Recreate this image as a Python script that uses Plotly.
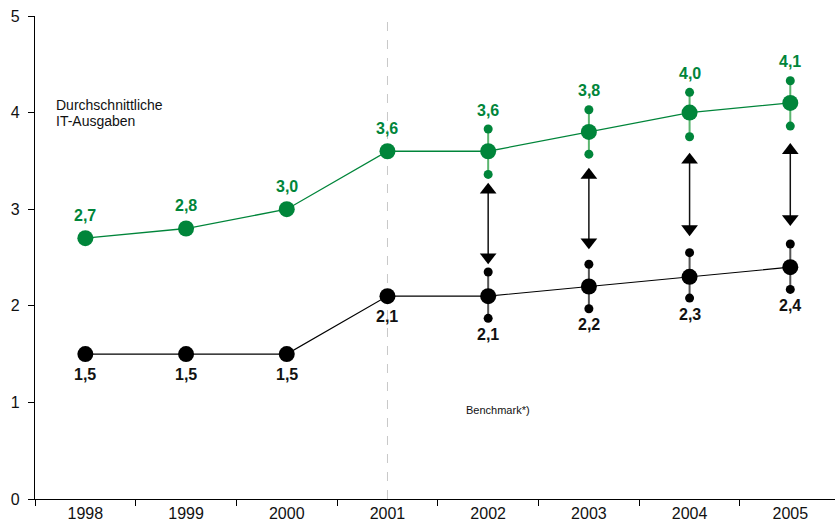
import plotly.graph_objects as go

years = ["1998", "1999", "2000", "2001", "2002", "2003", "2004", "2005"]
it_spend = [2.7, 2.8, 3.0, 3.6, 3.6, 3.8, 4.0, 4.1]
benchmark = [1.5, 1.5, 1.5, 2.1, 2.1, 2.2, 2.3, 2.4]
it_labels = ["2,7", "2,8", "3,0", "3,6", "3,6", "3,8", "4,0", "4,1"]
bm_labels = ["1,5", "1,5", "1,5", "2,1", "2,1", "2,2", "2,3", "2,4"]

range_years = ["2002", "2003", "2004", "2005"]
it_upper = [3.83, 4.03, 4.21, 4.33]
it_lower = [3.36, 3.57, 3.75, 3.86]
bm_upper = [2.35, 2.43, 2.55, 2.64]
bm_lower = [1.87, 1.97, 2.08, 2.17]
arrow_top = [3.20, 3.354, 3.51, 3.61]
arrow_bottom = [2.505, 2.66, 2.795, 2.90]

GREEN = "#00853a"
GREEN_LIGHT = "#5bb56f"
BLACK = "#000000"
FONT = "Liberation Sans, Arial, sans-serif"

fig = go.Figure()

fig.add_trace(go.Scatter(x=["2001", "2001"], y=[0, 5], mode="lines",
                         line=dict(color="#c8c8c8", width=1, dash="dash"),
                         hoverinfo="skip", showlegend=False))

for i, yr in enumerate(range_years):
    fig.add_trace(go.Scatter(x=[yr, yr], y=[it_lower[i], it_upper[i]], mode="lines+markers",
                             line=dict(color=GREEN_LIGHT, width=2),
                             marker=dict(color=GREEN, size=9),
                             showlegend=False, hoverinfo="skip"))
    fig.add_trace(go.Scatter(x=[yr, yr], y=[bm_lower[i], bm_upper[i]], mode="lines+markers",
                             line=dict(color="#555555", width=2),
                             marker=dict(color=BLACK, size=9),
                             showlegend=False, hoverinfo="skip"))
    fig.add_trace(go.Scatter(x=[yr, yr], y=[arrow_bottom[i], arrow_top[i]], mode="lines+markers",
                             line=dict(color="#111111", width=1.5),
                             marker=dict(color=BLACK, size=14.5,
                                         symbol=["triangle-down", "triangle-up"]),
                             showlegend=False, hoverinfo="skip"))

fig.add_trace(go.Scatter(x=years, y=it_spend, mode="lines+markers",
                         line=dict(color=GREEN, width=1.3),
                         marker=dict(color=GREEN, size=16),
                         showlegend=False))
fig.add_trace(go.Scatter(x=years, y=benchmark, mode="lines+markers",
                         line=dict(color=BLACK, width=1.1),
                         marker=dict(color=BLACK, size=16),
                         showlegend=False))

annotations = []
for i, yr in enumerate(years):
    if yr in range_years:
        j = range_years.index(yr)
        gy, gs = it_upper[j], 19
        by, bs = bm_lower[j], -16
    else:
        gy, gs = it_spend[i], 23
        by, bs = benchmark[i], -20
    annotations.append(dict(x=i, y=gy, yshift=gs, text="<b>%s</b>" % it_labels[i],
                            showarrow=False, font=dict(color=GREEN, size=16, family=FONT)))
    annotations.append(dict(x=i, y=by, yshift=bs, text="<b>%s</b>" % bm_labels[i],
                            showarrow=False, font=dict(color="#111111", size=16, family=FONT)))

annotations.append(dict(xref="paper", x=0.024, y=4.08, xanchor="left", yanchor="middle",
                        text="Durchschnittliche", align="left", showarrow=False,
                        font=dict(color="#111111", size=14, family=FONT)))
annotations.append(dict(xref="paper", x=0.024, y=3.91, xanchor="left", yanchor="middle",
                        text="IT-Ausgaben", align="left", showarrow=False,
                        font=dict(color="#111111", size=14, family=FONT)))
annotations.append(dict(x=years.index("2002"), xshift=10, y=0.92, text="Benchmark*)",
                        showarrow=False, font=dict(color="#111111", size=11, family=FONT)))

fig.update_layout(
    width=835, height=531,
    margin=dict(l=35, r=0, t=16, b=32),
    paper_bgcolor="white", plot_bgcolor="white",
    annotations=annotations,
    xaxis=dict(type="category", categoryorder="array", categoryarray=years,
               range=[-0.5, 7.444], tickson="boundaries",
               ticks="outside", ticklen=6, tickcolor="#000", showline=True,
               linecolor="#000", linewidth=1.2, showgrid=False, zeroline=False,
               tickfont=dict(size=16, color="#111111", family=FONT)),
    yaxis=dict(range=[0, 5], dtick=1, ticks="outside", ticklen=6, tickcolor="#000",
               showline=True, linecolor="#000", linewidth=1.2, showgrid=False, zeroline=False,
               ticklabelstandoff=5,
               tickfont=dict(size=16, color="#111111", family=FONT)),
)

fig.write_html("out.html")
